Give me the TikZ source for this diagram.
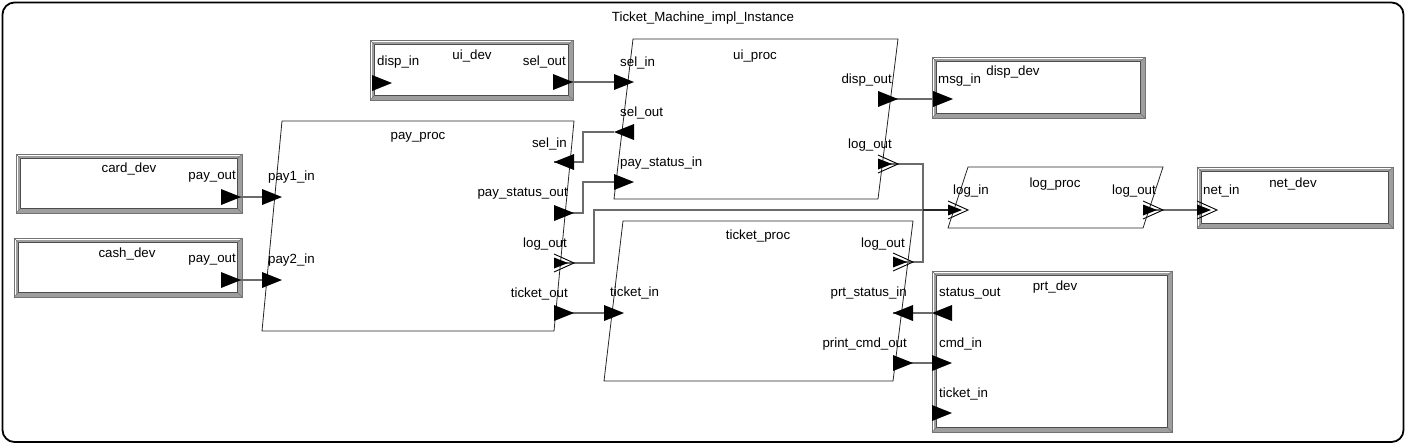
\documentclass[tikz,border=0pt]{standalone}
\usepackage{fontspec}
\setmainfont{Liberation Sans}
\begin{document}
\begin{tikzpicture}[x=1pt,y=-1pt,
  lbl/.style={font=\fontsize{13.3}{15}\selectfont, inner sep=0pt, yshift=-2pt},
  conn/.style={draw=black!58, line width=1.4pt},
  proc/.style={draw=black!85, line width=0.8pt},
  rtri/.pic={\fill (0,-8) -- (20,0) -- (0,8) -- cycle;},
  ltri/.pic={\fill (20,-8) -- (0,0) -- (20,8) -- cycle;},
  evt/.pic={\fill (0,-5.5) -- (14,0) -- (0,5.5) -- cycle; \draw[line width=0.9pt] (0,-9) -- (20,0) -- (0,9);}
]
\useasboundingbox (0,0) rectangle (1407,445);
\newcommand{\devbox}[4]{%
  \fill[black!38] (#1,#2) rectangle (#3,#4);
  \fill[white] (#1+4.5,#2+4.5) rectangle (#3-4.5,#4-4.5);
  \draw[black!55, line width=0.9pt] (#1,#2) rectangle (#3,#4);
  \draw[black!70, line width=0.9pt] (#1+4.5,#2+4.5) rectangle (#3-4.5,#4-4.5);
  \draw[white, line width=0.8pt] (#1+1.5,#2+1.5) -- (#3-1.5,#2+1.5);
  \draw[white, line width=0.8pt] (#1+1.5,#2+1.5) -- (#1+1.5,#4-1.5);
  \draw[black!55, line width=0.6pt] (#1,#2) -- (#1+4.5,#2+4.5) (#3,#2) -- (#3-4.5,#2+4.5) (#1,#4) -- (#1+4.5,#4-4.5) (#3,#4) -- (#3-4.5,#4-4.5);
}

% outer frame
\draw[line width=1.8pt, rounded corners=12pt] (2.5,2.5) rectangle (1403.5,442);
\node[lbl] (title) at (703,16) {Ticket\_Machine\_impl\_Instance};

% devices
\devbox{370}{40}{573}{100}
\devbox{932}{57}{1145}{118}
\devbox{16}{154}{242}{213}
\devbox{14}{238}{242}{297}
\devbox{1197}{167}{1393}{228}
\devbox{932}{271}{1172}{432}

% processes
\draw[proc] (633,39) -- (898,39) -- (878,199) -- (614,199) -- cycle;
\draw[proc] (282,121) -- (574,121) -- (554,331) -- (262,331) -- cycle;
\draw[proc] (623,221) -- (913,221) -- (893,381) -- (604,381) -- cycle;
\draw[proc] (968,167) -- (1163,167) -- (1143,228) -- (948,228) -- cycle;

% component labels
\node[lbl] (uidev) at (472,54) {ui\_dev};
\node[lbl] (dispdev) at (1013,70) {disp\_dev};
\node[lbl] (carddev) at (129,167) {card\_dev};
\node[lbl] (cashdev) at (127,252) {cash\_dev};
\node[lbl] (netdev) at (1293,182) {net\_dev};
\node[lbl] (prtdev) at (1055,285) {prt\_dev};
\node[lbl] (uiproc) at (755,54) {ui\_proc};
\node[lbl] (payproc) at (418,135) {pay\_proc};
\node[lbl] (ticketproc) at (758,234) {ticket\_proc};
\node[lbl] (logproc) at (1055,182) {log\_proc};

% port labels
\node[lbl, anchor=west] (l1) at (377,60) {disp\_in};
\node[lbl, anchor=east] (l2) at (566,60) {sel\_out};
\node[lbl, anchor=west] (l3) at (938,78) {msg\_in};
\node[lbl, anchor=east] (l4) at (236,175) {pay\_out};
\node[lbl, anchor=east] (l5) at (236,258) {pay\_out};
\node[lbl, anchor=west] (l6) at (1203,189) {net\_in};
\node[lbl, anchor=west] (l7) at (939,292) {status\_out};
\node[lbl, anchor=west] (l8) at (939,342) {cmd\_in};
\node[lbl, anchor=west] (l9) at (939,392) {ticket\_in};
\node[lbl, anchor=west] (l10) at (620,61) {sel\_in};
\node[lbl, anchor=west] (l11) at (620,111) {sel\_out};
\node[lbl, anchor=west] (l12) at (620,161) {pay\_status\_in};
\node[lbl, anchor=east] (l13) at (892,78) {disp\_out};
\node[lbl, anchor=east] (l14) at (892,143) {log\_out};
\node[lbl, anchor=west] (l15) at (268,175) {pay1\_in};
\node[lbl, anchor=west] (l16) at (268,258) {pay2\_in};
\node[lbl, anchor=east] (l17) at (567,142) {sel\_in};
\node[lbl, anchor=east] (l18) at (568,192) {pay\_status\_out};
\node[lbl, anchor=east] (l19) at (567,242) {log\_out};
\node[lbl, anchor=east] (l20) at (568,292) {ticket\_out};
\node[lbl, anchor=west] (l21) at (610,291) {ticket\_in};
\node[lbl, anchor=east] (l22) at (905,242) {log\_out};
\node[lbl, anchor=east] (l23) at (907,291) {prt\_status\_in};
\node[lbl, anchor=east] (l24) at (907,342) {print\_cmd\_out};
\node[lbl, anchor=west] (l25) at (953,189) {log\_in};
\node[lbl, anchor=east] (l26) at (1156,189) {log\_out};

% port coordinates (left x of the port glyph)
\coordinate (uidev_dispin) at (372,83);
\coordinate (uidev_selout) at (553,82);
\coordinate (uip_selin) at (614,82);
\coordinate (uip_selout) at (614,132);
\coordinate (uip_psin) at (614,182);
\coordinate (uip_dispout) at (878,99);
\coordinate (uip_logout) at (878,164);
\coordinate (disp_msgin) at (933,99);
\coordinate (pp_pay1) at (262,197);
\coordinate (pp_pay2) at (262,280);
\coordinate (pp_selin) at (554,162);
\coordinate (pp_psout) at (554,213);
\coordinate (pp_logout) at (554,263);
\coordinate (pp_tout) at (554,313);
\coordinate (card_out) at (221,197);
\coordinate (cash_out) at (221,280);
\coordinate (tp_tin) at (604,313);
\coordinate (tp_logout) at (893,262);
\coordinate (tp_psin) at (893,313);
\coordinate (tp_cmdout) at (893,363);
\coordinate (prt_sout) at (932,313);
\coordinate (prt_cmdin) at (932,363);
\coordinate (prt_tin) at (932,413);
\coordinate (lp_in) at (948,210);
\coordinate (lp_out) at (1143,210);
\coordinate (net_in) at (1197,210);

% connections
\draw[conn] (uidev_selout) -- (uip_selin);
\draw[conn] (card_out) -- (pp_pay1);
\draw[conn] (cash_out) -- (pp_pay2);
\draw[conn] (uip_selout) -- ++(-31,0) |- (pp_selin);
\draw[conn] (pp_psout) -- ++(29,0) |- (uip_psin);
\draw[conn] (pp_logout) -- ++(40,0) |- (lp_in);
\draw[conn] (pp_tout) -- (tp_tin);
\draw[conn] (uip_dispout) -- (disp_msgin);
\draw[conn] (uip_logout) -- ++(45,0) |- (lp_in);
\draw[conn] (tp_logout) -- ++(30,0) |- (lp_in);
\draw[black!85, line width=1.8pt] (923,210) -- (lp_in);
\draw[conn] (prt_sout) -- (tp_psin);
\draw[conn] (tp_cmdout) -- (prt_cmdin);
\draw[conn] (lp_out) -- (net_in);

% port glyphs
\pic at (uidev_dispin) {rtri};
\pic at (uidev_selout) {rtri};
\pic at (uip_selin) {rtri};
\pic at (uip_selout) {ltri};
\pic at (uip_psin) {rtri};
\pic at (uip_dispout) {rtri};
\pic at (uip_logout) {evt};
\pic at (disp_msgin) {rtri};
\pic at (pp_pay1) {rtri};
\pic at (pp_pay2) {rtri};
\pic at (pp_selin) {ltri};
\pic at (pp_psout) {rtri};
\pic at (pp_logout) {evt};
\pic at (pp_tout) {rtri};
\pic at (card_out) {rtri};
\pic at (cash_out) {rtri};
\pic at (tp_tin) {rtri};
\pic at (tp_logout) {evt};
\pic at (tp_psin) {ltri};
\pic at (tp_cmdout) {rtri};
\pic at (prt_sout) {ltri};
\pic at (prt_cmdin) {rtri};
\pic at (prt_tin) {rtri};
\pic at (lp_in) {evt};
\pic at (lp_out) {evt};
\pic at (net_in) {evt};
\end{tikzpicture}
\end{document}
